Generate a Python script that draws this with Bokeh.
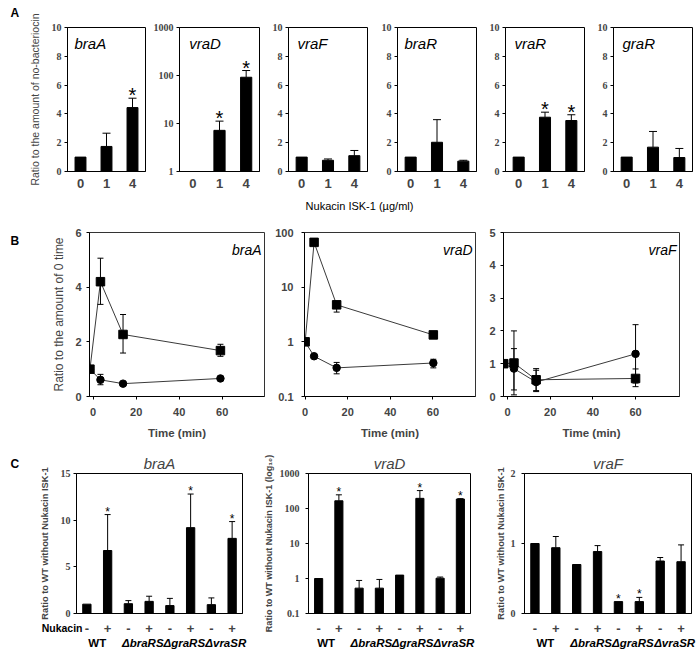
import math
from bokeh.plotting import figure
from bokeh.layouts import column, row
from bokeh.models import Range1d, FixedTicker, Label, NumeralTickFormatter
from bokeh.core.properties import value
from bokeh.embed import file_html
from bokeh.resources import INLINE

SANS = "Liberation Sans"
SERIF = "Liberation Serif"

# ---------------- Data: panel A (bars, ratio to no-bacteriocin) ----------------
conc_labels = ["0", "1", "4"]
genes_A = ["braA", "vraD", "vraF", "braR", "vraR", "graR"]
braA_A = [1.0, 1.74, 4.44]
braA_A_sd = [0.0, 0.92, 0.65]
vraD_A = [1.0, 7.2, 92.0]
vraD_A_sd = [0.0, 4.0, 35.0]
vraF_A = [1.0, 0.78, 1.10]
vraF_A_sd = [0.0, 0.09, 0.36]
braR_A = [1.0, 2.03, 0.72]
braR_A_sd = [0.0, 1.57, 0.06]
vraR_A = [1.0, 3.77, 3.54]
vraR_A_sd = [0.0, 0.35, 0.40]
graR_A = [1.0, 1.69, 0.97]
graR_A_sd = [0.0, 1.09, 0.63]
stars_A = {"braA": [2], "vraD": [1, 2], "vraR": [1, 2]}

# ---------------- Data: panel B (time course) ----------------
time_braA = [-1.5, 3.4, 13.9, 59.2]
braA_sq = [1.0, 4.2, 2.27, 1.68]
braA_sq_lo = [1.0, 3.37, 1.59, 1.47]
braA_sq_hi = [1.0, 5.06, 3.0, 1.91]
braA_ci = [1.0, 0.61, 0.47, 0.66]
braA_ci_lo = [1.0, 0.43, 0.44, 0.63]
braA_ci_hi = [1.0, 0.81, 0.50, 0.69]

time_vraD = [0.0, 4.2, 14.8, 60.2]
vraD_sq = [1.0, 66.0, 4.75, 1.34]
vraD_sq_lo = [1.0, 66.0, 3.5, 1.30]
vraD_sq_hi = [1.0, 66.0, 5.5, 1.38]
vraD_ci = [1.0, 0.545, 0.334, 0.41]
vraD_ci_lo = [1.0, 0.52, 0.26, 0.334]
vraD_ci_hi = [1.0, 0.57, 0.42, 0.48]

time_vraF = [-1.8, 3.0, 13.4, 60.0]
vraF_sq = [1.0, 1.02, 0.51, 0.55]
vraF_sq_lo = [1.0, 0.2, 0.18, 0.30]
vraF_sq_hi = [1.0, 1.46, 0.85, 0.84]
vraF_ci = [1.0, 0.85, 0.44, 1.30]
vraF_ci_lo = [1.0, 0.05, 0.15, 0.41]
vraF_ci_hi = [1.0, 2.0, 0.80, 2.19]

# ---------------- Data: panel C (mutants) ----------------
strains = ["WT", "ΔbraRS", "ΔgraRS", "ΔvraSR"]
nukacin = ["-", "+", "-", "+", "-", "+", "-", "+"]
braA_C = [1.0, 6.75, 1.05, 1.3, 0.85, 9.2, 0.95, 8.05]
braA_C_sd = [0.0, 3.85, 0.33, 0.55, 0.77, 3.6, 0.72, 1.8]
vraD_C = [1.0, 166.0, 0.53, 0.53, 1.25, 195.0, 1.02, 186.0]
vraD_C_sd = [0.0, 80.0, 0.35, 0.41, 0.0, 130.0, 0.08, 5.0]
vraF_C = [1.0, 0.94, 0.70, 0.885, 0.17, 0.17, 0.75, 0.74]
vraF_C_sd = [0.0, 0.16, 0.0, 0.085, 0.0, 0.06, 0.05, 0.24]
stars_C = {"braA": [1, 5, 7], "vraD": [1, 5, 7], "vraF": [4, 5]}


class Geo:
    """frame geometry: page pixels <-> data coordinates (used for text placement)"""
    def __init__(self, frame, xr, yr, ylog=False):
        self.fx0, self.fy0, self.fx1, self.fy1 = frame
        self.x0, self.x1 = xr
        self.y0, self.y1 = yr
        self.ylog = ylog

    def x(self, X):
        return self.x0 + (X - self.fx0) * (self.x1 - self.x0) / (self.fx1 - self.fx0)

    def y(self, Y):
        t = (self.fy1 - Y) / (self.fy1 - self.fy0)
        if self.ylog:
            a, b = math.log10(self.y0), math.log10(self.y1)
            return 10 ** (a + t * (b - a))
        return self.y0 + t * (self.y1 - self.y0)

    def px(self, xv):
        return self.fx0 + (xv - self.x0) * (self.fx1 - self.fx0) / (self.x1 - self.x0)

    def up(self, yv, dpx):
        h = self.fy1 - self.fy0
        if self.ylog:
            a, b = math.log10(self.y0), math.log10(self.y1)
            return 10 ** (math.log10(yv) + dpx * (b - a) / h)
        return yv + dpx * (self.y1 - self.y0) / h


def make(canvas, frame, xr, yr, ylog=False, title=None):
    cx0, cy0, cx1, cy1 = canvas
    fx0, fy0, fx1, fy1 = frame
    kw = {}
    if title is not None:
        kw["title"] = title
    p = figure(width=cx1 - cx0, height=cy1 - cy0, x_range=xr, y_range=yr,
               y_axis_type="log" if ylog else "linear",
               output_backend="svg", toolbar_location=None,
               min_border_left=fx0 - cx0, min_border_right=cx1 - fx1,
               min_border_top=fy0 - cy0, min_border_bottom=cy1 - fy1, **kw)
    p.grid.visible = False
    p.outline_line_color = "black"
    p.outline_line_width = 1
    p.background_fill_color = "white"
    p.border_fill_color = "white"
    for ax in p.axis:
        ax.axis_line_color = "black"
        ax.major_tick_line_color = "black"
        ax.minor_tick_line_color = None
        ax.major_tick_in = 0
    return p


def inlabel(p, g, X, Y, text, size, style="normal", align="left"):
    p.add_layout(Label(x=g.x(X), y=g.y(Y), text=text, text_font=SANS,
                       text_font_size=f"{size}px", text_font_style=style,
                       text_align=align, text_baseline="middle", text_color="black"))


def style_y(ax, ticks, ylog, font, size, style, standoff):
    ax.ticker = FixedTicker(ticks=ticks)
    if ylog:
        ax.formatter = NumeralTickFormatter(format="0.[0]")
    ax.major_label_text_font = font
    ax.major_label_text_font_size = size
    ax.major_label_text_font_style = style
    ax.major_tick_out = 3
    ax.major_label_standoff = standoff


def style_x_cat(ax, ticks, labels, size, standoff):
    ax.ticker = FixedTicker(ticks=ticks)
    ax.major_label_overrides = {ticks[i]: labels[i] for i in range(len(ticks))}
    ax.major_tick_line_color = None
    ax.major_tick_out = 0
    ax.major_label_text_font = SANS
    ax.major_label_text_font_size = size
    ax.major_label_text_font_style = "bold"
    ax.major_label_standoff = standoff


# ================= Row A =================
A_vals = [braA_A, vraD_A, vraF_A, braR_A, vraR_A, graR_A]
A_sds = [braA_A_sd, vraD_A_sd, vraF_A_sd, braR_A_sd, vraR_A_sd, graR_A_sd]
A_canvas_x = [(0, 150), (150, 262), (262, 370), (370, 479), (479, 587), (587, 699)]
A_frame_x = [(67, 145), (177, 259), (288, 367), (397, 476), (505, 584), (613, 692)]
A_title_x = [74, 187, 297, 404, 514, 622]
A_cy, A_fy = (0, 216), (27, 171)
xA = [i + 1 for i in range(len(conc_labels))]

row_A = []
for k, gene in enumerate(genes_A):
    ylog = gene == "vraD"
    yr = (1, 1000) if ylog else (0, 10)
    xr = (0.5, len(xA) + 0.5)
    (cx0, cx1), (fx0, fx1) = A_canvas_x[k], A_frame_x[k]
    frame = (fx0, A_fy[0], fx1, A_fy[1])
    p = make((cx0, A_cy[0], cx1, A_cy[1]), frame, Range1d(*xr), Range1d(*yr), ylog)
    g = Geo(frame, xr, yr, ylog)
    vals, sd = A_vals[k], A_sds[k]
    p.vbar(x=xA, top=vals, bottom=yr[0], width=0.42, fill_color="black", line_color="black")
    idx = [i for i in range(len(vals)) if sd[i] > 0]
    xs = [xA[i] for i in idx]
    y0 = [vals[i] for i in idx]
    y1 = [vals[i] + sd[i] for i in idx]
    p.segment(x0=xs, y0=y0, x1=xs, y1=y1, line_color="black", line_width=1)
    p.scatter(x=xs, y=y1, marker="dash", size=8, line_color="black", line_width=1)
    if gene in stars_A:
        si = stars_A[gene]
        p.text(x=[xA[i] for i in si], y=[g.up(vals[i] + sd[i], 3) for i in si],
               text=["*"] * len(si), text_align="center", text_baseline="middle",
               text_font=value(SANS), text_font_size="20px", text_color="black")
    style_y(p.yaxis[0], [1, 10, 100, 1000] if ylog else [0, 2, 4, 6, 8, 10],
            ylog, SERIF, "10px", "bold", 3)
    style_x_cat(p.xaxis[0], xA, conc_labels, "13px", 7)
    inlabel(p, g, A_title_x[k], 43, gene, 15, "italic")
    if k == 0:
        ya = p.yaxis[0]
        ya.axis_label = "Ratio to the amount of no-bacteriocin"
        ya.axis_label_text_font = SANS
        ya.axis_label_text_font_size = "10.5px"
        ya.axis_label_text_font_style = "normal"
        ya.axis_label_standoff = 8
    row_A.append(p)

# ================= Row B =================
B_specs = [
    dict(gene="braA", t=time_braA, sq=braA_sq, sq_lo=braA_sq_lo, sq_hi=braA_sq_hi,
         ci=braA_ci, ci_lo=braA_ci_lo, ci_hi=braA_ci_hi, ylog=False,
         xr=(-1.7, 79.7), yr=(0, 6), yt=[0, 2, 4, 6],
         canvas=(0, 272), frame=(89, 264), ystand=5),
    dict(gene="vraD", t=time_vraD, sq=vraD_sq, sq_lo=vraD_sq_lo, sq_hi=vraD_sq_hi,
         ci=vraD_ci, ci_lo=vraD_ci_lo, ci_hi=vraD_ci_hi, ylog=True,
         xr=(-0.3, 80.0), yr=(0.1, 100), yt=[0.1, 1, 10, 100],
         canvas=(272, 483), frame=(301, 475), ystand=8),
    dict(gene="vraF", t=time_vraF, sq=vraF_sq, sq_lo=vraF_sq_lo, sq_hi=vraF_sq_hi,
         ci=vraF_ci, ci_lo=vraF_ci_lo, ci_hi=vraF_ci_hi, ylog=False,
         xr=(-1.9, 80.6), yr=(0, 5), yt=[0, 1, 2, 3, 4, 5],
         canvas=(483, 699), frame=(503, 679), ystand=5),
]
B_cy, B_fy = (216, 445), (232, 396)
row_B = []
for k, s in enumerate(B_specs):
    frame = (s["frame"][0], B_fy[0], s["frame"][1], B_fy[1])
    p = make((s["canvas"][0], B_cy[0], s["canvas"][1], B_cy[1]), frame,
             Range1d(*s["xr"]), Range1d(*s["yr"]), s["ylog"])
    p.outline_line_color = "#333333"
    g = Geo(frame, s["xr"], s["yr"], s["ylog"])
    t = s["t"]
    p.line(t, s["ci"], line_color="#3a3a3a", line_width=1)
    p.line(t, s["sq"], line_color="#3a3a3a", line_width=1)
    for lo, hi in [(s["ci_lo"], s["ci_hi"]), (s["sq_lo"], s["sq_hi"])]:
        idx = [i for i in range(len(t)) if hi[i] - lo[i] > 1e-9]
        ts = [t[i] for i in idx]
        los = [lo[i] for i in idx]
        his = [hi[i] for i in idx]
        p.segment(x0=ts, y0=los, x1=ts, y1=his, line_color="black", line_width=1)
        p.scatter(x=ts + ts, y=los + his, marker="dash", size=6, line_color="black",
                  line_width=1)
    p.scatter(t, s["ci"], marker="circle", size=7.5, fill_color="black", line_color="black")
    p.scatter(t, s["sq"], marker="square", size=8.5, fill_color="black", line_color="black")
    style_y(p.yaxis[0], s["yt"], s["ylog"], SANS, "11px", "bold", s["ystand"])
    xa = p.xaxis[0]
    xa.ticker = FixedTicker(ticks=[0, 20, 40, 60])
    xa.major_label_text_font = SANS
    xa.major_label_text_font_size = "11px"
    xa.major_label_text_font_style = "bold"
    xa.major_tick_out = 3
    xa.major_label_standoff = 8
    xa.axis_label = "Time (min)"
    xa.axis_label_text_font = SANS
    xa.axis_label_text_font_size = "11.5px"
    xa.axis_label_text_font_style = "bold"
    xa.axis_label_standoff = 8
    inlabel(p, g, s["frame"][1] - 3, 249, s["gene"], 14, "italic", align="right")
    if k == 0:
        ya = p.yaxis[0]
        ya.axis_label = "Ratio to the amount of 0 time"
        ya.axis_label_text_font = SANS
        ya.axis_label_text_font_size = "12px"
        ya.axis_label_text_font_style = "normal"
        ya.axis_label_standoff = 6
    row_B.append(p)

# ================= Row C =================
xpos = [i + 1 for i in range(len(nukacin))]
C_specs = [
    dict(gene="braA", vals=braA_C, sd=braA_C_sd, ylog=False, yr=(0, 15), yt=[0, 5, 10, 15],
         canvas=(0, 260), frame=(76, 242), ystand=3, lstand=8, toff=-2, lsize="9.3px",
         ylabel="Ratio to WT without Nukacin ISK-1"),
    dict(gene="vraD", vals=vraD_C, sd=vraD_C_sd, ylog=True, yr=(0.1, 1000),
         yt=[0.1, 1, 10, 100, 1000], canvas=(260, 480), frame=(305, 470), ystand=6,
         lstand=3, toff=5, lsize="9px",
         ylabel="Ratio to WT without Nukacin ISK-1 (log₁₀)"),
    dict(gene="vraF", vals=vraF_C, sd=vraF_C_sd, ylog=False, yr=(0, 2), yt=[0, 1, 2],
         canvas=(480, 699), frame=(524, 691), ystand=6, lstand=2, toff=7, lsize="9.3px",
         ylabel="Ratio to WT without Nukacin ISK-1"),
]
C_cy, C_fy = (445, 654), (473, 613)
row_C = []
C_geos = []
for k, s in enumerate(C_specs):
    frame = (s["frame"][0], C_fy[0], s["frame"][1], C_fy[1])
    xr = (0.5, len(xpos) + 0.5)
    p = make((s["canvas"][0], C_cy[0], s["canvas"][1], C_cy[1]), frame,
             Range1d(*xr), Range1d(*s["yr"]), s["ylog"], title=s["gene"])
    p.title.align = "center"
    p.title.text_font = SANS
    p.title.text_font_size = "15px"
    p.title.text_font_style = "italic"
    p.title.standoff = 3
    p.title.offset = s["toff"]
    g = Geo(frame, xr, s["yr"], s["ylog"])
    C_geos.append(g)
    vals, sd = s["vals"], s["sd"]
    p.vbar(x=xpos, top=vals, bottom=s["yr"][0], width=0.4, fill_color="black",
           line_color="black")
    idx = [i for i in range(len(vals)) if sd[i] > 0]
    xs = [xpos[i] for i in idx]
    y0 = [vals[i] for i in idx]
    y1 = [vals[i] + sd[i] for i in idx]
    p.segment(x0=xs, y0=y0, x1=xs, y1=y1, line_color="black", line_width=1)
    p.scatter(x=xs, y=y1, marker="dash", size=6, line_color="black", line_width=1)
    si = stars_C[s["gene"]]
    p.text(x=[xpos[i] for i in si], y=[g.up(vals[i] + sd[i], 3) for i in si],
           text=["*"] * len(si), text_align="center", text_baseline="middle",
           text_font=value(SANS), text_font_size="12px", text_color="black")
    style_y(p.yaxis[0], s["yt"], s["ylog"], SERIF, "10px", "bold", s["ystand"])
    ya = p.yaxis[0]
    ya.axis_label = s["ylabel"]
    ya.axis_label_text_font = SANS
    ya.axis_label_text_font_size = s["lsize"]
    ya.axis_label_text_font_style = "bold"
    ya.axis_label_standoff = s["lstand"]
    style_x_cat(p.xaxis[0], xpos, nukacin, "13px", 10)
    row_C.append(p)

main = column(row(*row_A), row(*row_B), row(*row_C))

# ===== transparent text layer over the whole page (panel letters, group names) =====
ov = figure(width=699, height=654, x_range=Range1d(0, 699), y_range=Range1d(654, 0),
            output_backend="svg", toolbar_location=None,
            x_axis_location=None, y_axis_location=None, min_border=0,
            margin=(-654, 0, 0, 0))
ov.background_fill_color = None
ov.border_fill_color = None
ov.outline_line_color = None
ov.grid.visible = False


def otext(X, Y, txt, size, style="normal", align="left"):
    ov.text(x=[X], y=[Y], text=[txt], text_font=value(SANS), text_font_size=f"{size}px",
            text_font_style=style, text_align=align, text_baseline="middle",
            text_color="black")


otext(10, 12, "A", 12, "bold")
otext(359, 205, "Nukacin ISK-1 (µg/ml)", 11, "normal", "center")
otext(10, 240, "B", 12, "bold")
otext(10, 463, "C", 12, "bold")
otext(82, 627, "Nukacin", 10.5, "bold", "right")
for g in C_geos:
    for j, st in enumerate(strains):
        mid = (xpos[2 * j] + xpos[2 * j + 1]) / 2
        X = g.px(mid) + (0 if j == 0 else 4)
        otext(X, 642, st, 11.5, "bold" if j == 0 else "bold italic", "center")

layout = column(main, ov)
open("out.html", "w").write(file_html(layout, INLINE))
